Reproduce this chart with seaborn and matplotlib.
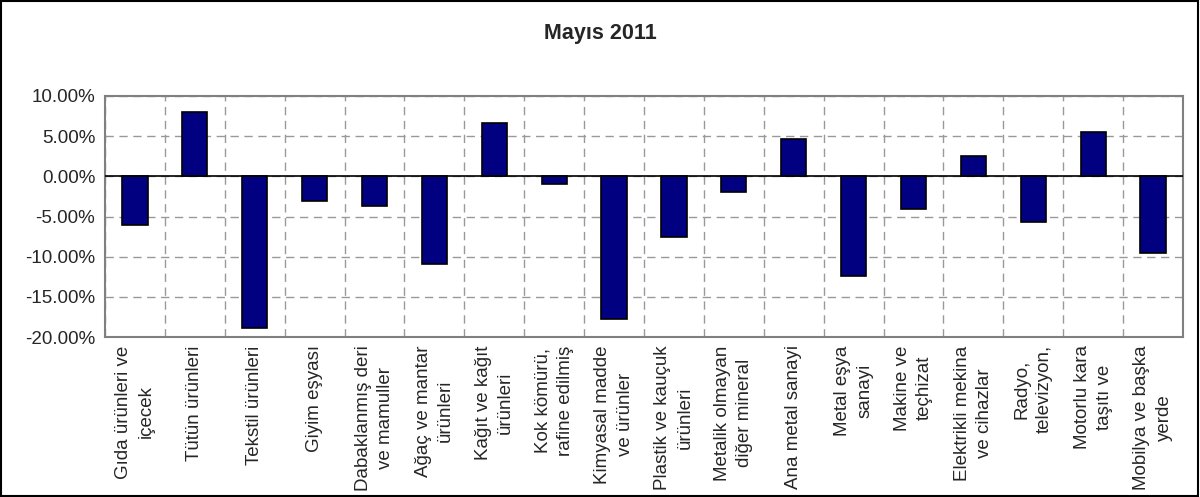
import numpy as np
import pandas as pd
import matplotlib
matplotlib.use("Agg")
import matplotlib.pyplot as plt
import matplotlib.ticker as mticker
import seaborn as sns

categories = [
    "Gıda ürünleri ve\niçecek",
    "Tütün ürünleri",
    "Tekstil ürünleri",
    "Giyim eşyası",
    "Dabaklanmış deri\nve mamuller",
    "Ağaç ve mantar\nürünleri",
    "Kağıt ve kağıt\nürünleri",
    "Kok kömürü,\nrafine edilmiş",
    "Kimyasal madde\nve ürünler",
    "Plastik ve kauçuk\nürünleri",
    "Metalik olmayan\ndiğer mineral",
    "Ana metal sanayi",
    "Metal eşya\nsanayi",
    "Makine ve\nteçhizat",
    "Elektrikli mekina\nve cihazlar",
    "Radyo,\ntelevizyon,",
    "Motorlu kara\ntaşıtı ve",
    "Mobilya ve başka\nyerde",
]
values = [-6.1, 8.0, -18.9, -3.1, -3.7, -10.9, 6.6, -0.9, -17.7,
          -7.5, -1.95, 4.6, -12.4, -4.1, 2.5, -5.65, 5.5, -9.6]

df = pd.DataFrame({"cat": categories, "val": values})

sns.set_style("white")
plt.rcParams['font.family'] = ['Liberation Sans', 'DejaVu Sans']

fig = plt.figure(figsize=(12, 4.97), dpi=100)
ax = fig.add_axes([105 / 1200, 1 - 337 / 497, 1078 / 1200, 241 / 497])

sns.barplot(data=df, x="cat", y="val", color="#000080", saturation=1,
            width=0.42, edgecolor="black", linewidth=1.2, ax=ax, zorder=3)

ax.set_ylim(-20, 10)
ax.set_xlim(-0.5, len(categories) - 0.5)
ax.yaxis.set_major_locator(mticker.MultipleLocator(5))
ax.yaxis.set_major_formatter(mticker.FuncFormatter(lambda v, p: f"{v:.2f}%"))

# grid lines at category boundaries
ax.set_xticks(np.arange(-0.5, len(categories), 1), minor=True)
ax.grid(True, which="minor", axis="x", color="#999999", linestyle=(0, (6, 4)), linewidth=1)
ax.grid(True, which="major", axis="y", color="#999999", linestyle=(0, (6, 4)), linewidth=1)
ax.set_axisbelow(True)
ax.axhline(0, color="black", linewidth=1.2, zorder=4)

ax.set_xticks(range(len(categories)))
ax.set_xticklabels(categories, rotation=90, ha="center", va="top",
                   multialignment="center", fontsize=13.5, linespacing=1.4)
ax.tick_params(axis="x", which="major", length=0, pad=6)
ax.tick_params(axis="x", which="minor", length=4, color="#808080", direction="out")
ax.tick_params(axis="y", length=4, color="#808080", direction="out", labelsize=13.5, pad=3)
ax.set_xlabel("")
ax.set_ylabel("")

for s in ax.spines.values():
    s.set_color("#808080")
    s.set_linewidth(1.5)
    s.set_visible(True)

fig.text(0.5, 1 - 33 / 497, "Mayıs 2011", ha="center", va="center",
         fontsize=15.5, fontweight="bold")

# outer chart border
fig.patches.append(plt.Rectangle((0.001, 0.002), 0.997, 0.995, transform=fig.transFigure,
                                 fill=False, edgecolor="black", linewidth=1.5))

fig.savefig("out.png", dpi=100)
